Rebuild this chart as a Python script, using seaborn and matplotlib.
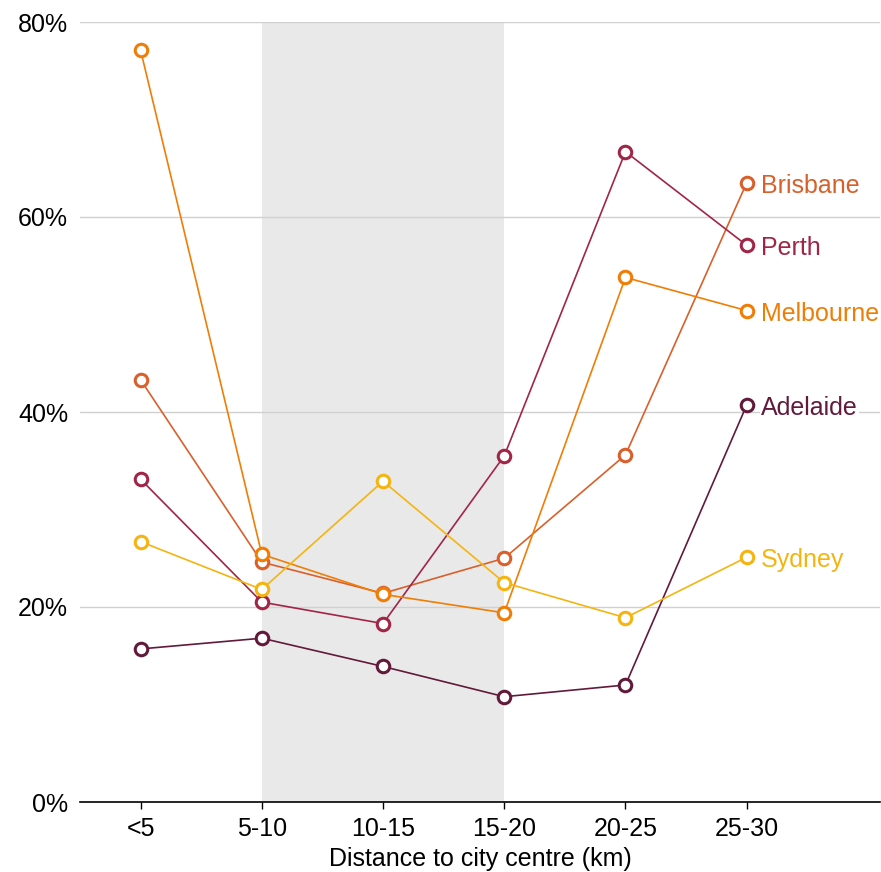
import matplotlib
matplotlib.use("Agg")
import matplotlib.pyplot as plt
import seaborn as sns
import pandas as pd
from matplotlib.ticker import PercentFormatter

# Data (share, %)
distances = ["<5", "5-10", "10-15", "15-20", "20-25", "25-30"]
brisbane = [43.3, 24.6, 21.4, 25.0, 35.6, 63.5]
perth = [33.1, 20.5, 18.3, 35.5, 66.7, 57.1]
melbourne = [77.1, 25.4, 21.3, 19.4, 53.8, 50.4]
adelaide = [15.7, 16.8, 13.9, 10.8, 12.0, 40.7]
sydney = [26.7, 21.8, 32.9, 22.5, 18.9, 25.1]

cities = ["Brisbane", "Perth", "Melbourne", "Adelaide", "Sydney"]
colors = {"Brisbane": "#d9602a", "Perth": "#a12547", "Melbourne": "#f07d05",
          "Adelaide": "#621a3b", "Sydney": "#f5b40f"}

series = dict(zip(cities, [brisbane, perth, melbourne, adelaide, sydney]))
rows = []
for city, vals in series.items():
    for i, (d, v) in enumerate(zip(distances, vals)):
        rows.append({"city": city, "pos": i, "distance": d, "value": v})
df = pd.DataFrame(rows)

sns.set_style("white")
plt.rcParams["font.family"] = ["Liberation Sans", "DejaVu Sans"]

fig = plt.figure(figsize=(8.81, 8.72), dpi=100)
ax = fig.add_axes([80 / 881, 70 / 872, 800 / 881, 780 / 872])

ax.axvspan(1, 3, color="#e9e9e9", zorder=0, lw=0)

sns.lineplot(data=df, x="pos", y="value", hue="city", palette=colors,
             marker="o", markersize=9, markerfacecolor="white",
             markeredgewidth=2.2, linewidth=1.2, legend=False, ax=ax,
             zorder=3)
# marker edge colours follow line colours
for line in ax.get_lines():
    line.set_markeredgecolor(line.get_color())

for city in cities:
    ax.text(5.12, series[city][-1] - 0.3, city, color=colors[city], fontsize=18,
            va="center", ha="left", zorder=4,
            bbox=dict(facecolor="white", edgecolor="none", pad=1))

ax.set_xlim(-0.5, 6.1)
ax.set_ylim(0, 80)
ax.set_yticks([0, 20, 40, 60, 80])
ax.yaxis.set_major_formatter(PercentFormatter(decimals=0))
ax.set_xticks(range(len(distances)))
ax.set_xticklabels(distances)
ax.grid(axis="y", color="#d0d0d0", lw=1, zorder=1)
ax.set_axisbelow(True)
for s in ["left", "right", "top"]:
    ax.spines[s].set_visible(False)
ax.spines["bottom"].set_color("black")
ax.spines["bottom"].set_linewidth(1.2)
ax.tick_params(axis="x", bottom=True, length=5, width=1, color="black",
               labelsize=18, labelcolor="black", pad=6)
ax.tick_params(axis="y", left=False, labelsize=18, labelcolor="black", pad=5)
ax.set_xlabel("Distance to city centre (km)", fontsize=18, color="black",
              labelpad=4)
ax.set_ylabel("")

fig.savefig("out.png", dpi=100)
